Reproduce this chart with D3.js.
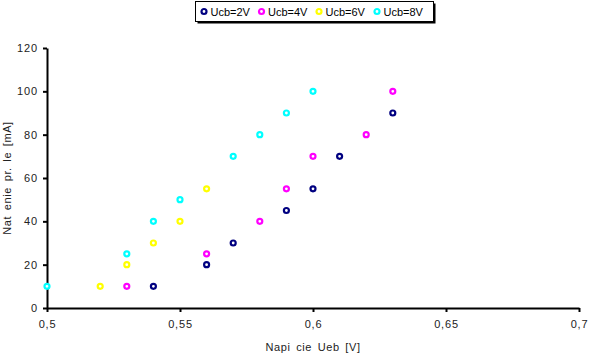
<!DOCTYPE html>
<html><head><meta charset="utf-8">
<script src="https://cdn.jsdelivr.net/npm/d3@7"></script>
<style>body{margin:0;background:#fff}svg{display:block;font-family:"Liberation Sans",Arial,sans-serif}</style>
</head><body><svg id="c" width="589" height="356"></svg>
<script>
const seriesNames = ["Ucb=2V","Ucb=4V","Ucb=6V","Ucb=8V"];
const seriesColors = ["#000080","#ff00ff","#ffff00","#00ffff"];
const ucb2x = [0.54,0.56,0.57,0.59,0.60,0.61,0.63];
const ucb2y = [10,20,30,45,55,70,90];
const ucb4x = [0.53,0.56,0.58,0.59,0.60,0.62,0.63];
const ucb4y = [10,25,40,55,70,80,100];
const ucb6x = [0.52,0.53,0.54,0.55,0.56];
const ucb6y = [10,20,30,40,55];
const ucb8x = [0.50,0.53,0.54,0.55,0.57,0.58,0.59,0.60];
const ucb8y = [10,25,40,50,70,80,90,100];
const xTicks = [0.5,0.55,0.6,0.65,0.7];
const yTicks = [0,20,40,60,80,100,120];
const xTitle = "Napi cie Ueb [V]";
const yTitle = "Nat enie pr. le [mA]";

const series = [[ucb2x,ucb2y],[ucb4x,ucb4y],[ucb6x,ucb6y],[ucb8x,ucb8y]];
const svg = d3.select("#c");
const x = d3.scaleLinear().domain([0.5,0.7]).range([47,579]);
const y = d3.scaleLinear().domain([0,120]).range([308,48]);
const fmt = d => String(d).replace(".", ",");

const xa = svg.append("g").attr("transform","translate(0,308)")
  .call(d3.axisBottom(x).tickValues(xTicks).tickFormat(fmt).tickSize(4).tickSizeOuter(0));
const ya = svg.append("g").attr("transform","translate(47,0)")
  .call(d3.axisLeft(y).tickValues(yTicks).tickFormat(d=>d).tickSize(4).tickSizeOuter(0));
[xa,ya].forEach(a=>{
  a.select(".domain").attr("stroke","#000").attr("stroke-width",2);
  a.selectAll(".tick line").attr("stroke","#000").attr("stroke-width",2);
  a.selectAll("text").attr("font-size",11).attr("letter-spacing","0.8px").attr("fill","#222")
    .attr("font-family","Liberation Sans, Arial, sans-serif");
});
xa.selectAll("text").attr("dy","1.15em");
ya.selectAll("text").attr("dx","-0.2em");

svg.append("text").attr("x",313).attr("y",351).attr("text-anchor","middle")
  .attr("font-size",11).attr("letter-spacing","0.6px").attr("word-spacing","2px").attr("fill","#222").text(xTitle);
svg.append("text").attr("transform","translate(11,178) rotate(-90)").attr("text-anchor","middle")
  .attr("font-size",11).attr("letter-spacing","0.6px").attr("word-spacing","2px").attr("fill","#222").text(yTitle);

series.forEach((s,i)=>{
  const pts = s[0].map((v,j)=>[v,s[1][j]]);
  svg.append("g").selectAll("circle").data(pts).join("circle")
    .attr("cx",d=>x(d[0])).attr("cy",d=>y(d[1])).attr("r",2.5)
    .attr("fill","#fff").attr("stroke",seriesColors[i]).attr("stroke-width",2.2);
});

// legend
const lg = svg.append("g");
lg.append("rect").attr("x",197.5).attr("y",3.5).attr("width",238).attr("height",20).attr("fill","#000");
lg.append("rect").attr("x",195.5).attr("y",1.5).attr("width",238).attr("height",20).attr("fill","#fff").attr("stroke","#000").attr("stroke-width",1);
const lx = [204,261.5,319,377];
seriesNames.forEach((n,i)=>{
  lg.append("circle").attr("cx",lx[i]).attr("cy",11.5).attr("r",2.5).attr("fill","#fff")
    .attr("stroke",seriesColors[i]).attr("stroke-width",2.2);
  lg.append("text").attr("x",lx[i]+6.5).attr("y",15.5).attr("font-size",11)
    .attr("fill","#000").text(n);
});
</script></body></html>
